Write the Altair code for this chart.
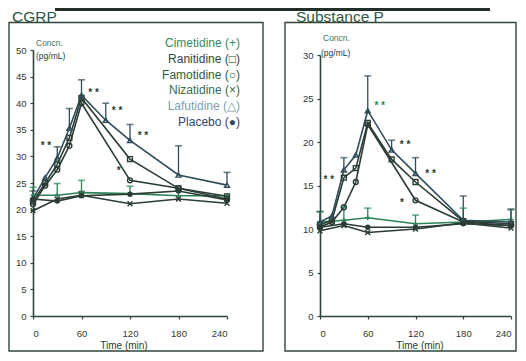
import altair as alt
import pandas as pd

FONT = "Liberation Sans"

series = ["Cimetidine", "Ranitidine", "Famotidine", "Nizatidine", "Lafutidine", "Placebo"]
series_colors = ["#2b8457", "#2a3c33", "#2a3c33", "#2a3c33", "#2f4c5a", "#2a3c33"]
series_shapes = ["M-1,0L1,0M0,-1L0,1", "square", "circle", "M-1,-1L1,1M-1,1L1,-1", "triangle-up", "circle"]
legend_labels = ["Cimetidine (+)", "Ranitidine (□)", "Famotidine (○)", "Nizatidine (×)", "Lafutidine (△)", "Placebo (●)"]
legend_colors = ["#3a8a5c", "#2f4a3b", "#2f5a44", "#3a6a50", "#7d9fae", "#34466a"]

times_active = [0, 15, 30, 45, 60, 90, 120, 180, 240]
times_flat = [0, 30, 60, 120, 180, 240]
x_ticks = [0, 60, 120, 180, 240]

# ---- CGRP (pg/mL) ----
cgrp_laf = [22.0, 26.0, 29.7, 35.3, 41.5, 36.8, 33.0, 26.5, 24.6]
cgrp_laf_err = [1.5, None, 2.1, 3.7, 2.9, 3.2, 3.0, 5.5, 2.4]
cgrp_ran = [21.5, 25.0, 28.5, 33.5, 41.0, None, 29.5, 24.0, 22.5]
cgrp_ran_err = [None, None, None, None, None, None, None, None, None]
cgrp_fam = [21.0, 24.5, 27.5, 32.0, 40.0, None, 25.5, 24.0, 22.0]
cgrp_fam_err = [None, None, None, None, None, None, None, None, None]
cgrp_cim = [22.7, 22.7, 23.2, 23.0, 22.6, 22.6]
cgrp_cim_err = [1.5, 2.2, 2.3, 1.4, None, None]
cgrp_niz = [19.8, 22.0, 22.7, 21.1, 22.0, 21.2]
cgrp_niz_err = [None, None, None, None, None, None]
cgrp_plac = [22.0, 21.6, 22.6, 22.9, 23.5, 21.8]
cgrp_plac_err = [None, None, 0.8, None, None, None]

# ---- Substance P (pg/mL) ----
sp_laf = [10.8, 11.5, 16.8, 18.5, 23.6, 19.1, 16.4, 11.0, 10.8]
sp_laf_err = [1.2, None, 1.4, None, 4.0, 1.1, 1.8, 2.8, 1.5]
sp_ran = [10.5, 11.0, 15.9, 17.0, 22.2, 18.0, 15.4, 10.9, 10.6]
sp_ran_err = [None, None, None, None, None, None, None, None, None]
sp_fam = [10.2, 10.8, 12.5, 15.4, 22.0, None, 13.3, 10.8, 10.4]
sp_fam_err = [None, None, None, None, None, None, None, None, None]
sp_cim = [10.8, 11.0, 11.3, 10.6, 10.8, 11.1]
sp_cim_err = [1.2, 1.5, 1.1, 1.0, 1.6, 1.1]
sp_niz = [9.8, 10.4, 9.6, 10.0, 10.7, 10.1]
sp_niz_err = [None, None, None, None, None, None]
sp_plac = [10.2, 10.6, 10.2, 10.2, 10.6, 10.4]
sp_plac_err = [None, None, None, None, None, None]

# significance marks (time, value, text, series)
cgrp_sig_t = [16, 75, 104, 136, 106]
cgrp_sig_v = [32.5, 42.5, 39.1, 34.4, 27.8]
cgrp_sig_txt = ["* *", "* *", "* *", "* *", "*"]
cgrp_sig_series = ["Ranitidine"] * 5
sp_sig_t = [11, 75, 107, 139, 103]
sp_sig_v = [16.0, 24.5, 20.0, 16.7, 13.3]
sp_sig_txt = ["* *", "* *", "* *", "* *", "*"]
sp_sig_series = ["Ranitidine", "Cimetidine", "Ranitidine", "Ranitidine", "Ranitidine"]


def build(panel_sets):
    rows = []
    for name, times, vals, errs in panel_sets:
        for t, v, e in zip(times, vals, errs):
            if v is None:
                continue
            rows.append({"series": name, "t": t, "v": v, "err": e})
    return pd.DataFrame(rows)


cgrp_df = build([
    ("Cimetidine", times_flat, cgrp_cim, cgrp_cim_err),
    ("Ranitidine", times_active, cgrp_ran, cgrp_ran_err),
    ("Famotidine", times_active, cgrp_fam, cgrp_fam_err),
    ("Nizatidine", times_flat, cgrp_niz, cgrp_niz_err),
    ("Lafutidine", times_active, cgrp_laf, cgrp_laf_err),
    ("Placebo", times_flat, cgrp_plac, cgrp_plac_err),
])
sp_df = build([
    ("Cimetidine", times_flat, sp_cim, sp_cim_err),
    ("Ranitidine", times_active, sp_ran, sp_ran_err),
    ("Famotidine", times_active, sp_fam, sp_fam_err),
    ("Nizatidine", times_flat, sp_niz, sp_niz_err),
    ("Lafutidine", times_active, sp_laf, sp_laf_err),
    ("Placebo", times_flat, sp_plac, sp_plac_err),
])
cgrp_sig = pd.DataFrame({"t": cgrp_sig_t, "v": cgrp_sig_v, "txt": cgrp_sig_txt, "series": cgrp_sig_series})
sp_sig = pd.DataFrame({"t": sp_sig_t, "v": sp_sig_v, "txt": sp_sig_txt, "series": sp_sig_series})
legend_df = pd.DataFrame({"label": legend_labels, "idx": list(range(len(legend_labels)))})

W, H = 510, 345
AXIS_Y = 308
INK = "#2f4438"

color_scale = alt.Scale(domain=series, range=series_colors)
shape_scale = alt.Scale(domain=series, range=series_shapes)


def axis_kw():
    return dict(grid=False, title=None, tickSize=3, tickColor=INK, domainColor=INK,
                domainWidth=1.6, tickWidth=1.2, labelFont=FONT, labelFontSize=9.5,
                labelColor="#2c3a32")


def panel(df, sig, xr, yr, ydom, yticks, xoff):
    xs = alt.Scale(domain=[0, 240], range=xr, nice=False, zero=False)
    ys = alt.Scale(domain=ydom, range=yr, nice=False, zero=False)
    ax_x = alt.Axis(values=x_ticks, orient="bottom", offset=AXIS_Y - H, labelPadding=9, **axis_kw())
    ax_y = alt.Axis(values=yticks, orient="left", offset=-xoff, labelPadding=4, **axis_kw())
    col = alt.Color("series:N", scale=color_scale, legend=None)
    base = alt.Chart(df)
    lines = base.mark_line(strokeWidth=1.6).encode(
        x=alt.X("t:Q", scale=xs, axis=ax_x),
        y=alt.Y("v:Q", scale=ys, axis=ax_y),
        color=col, detail="series:N", order="t:Q")
    eb = base.transform_filter("datum.err != null").transform_calculate(hi="datum.v + datum.err")
    rules = eb.mark_rule(strokeWidth=1.3).encode(
        x=alt.X("t:Q", scale=xs, axis=None),
        y=alt.Y("v:Q", scale=ys, axis=None), y2="hi:Q", color=col)
    caps = eb.mark_tick(orient="horizontal", size=7, thickness=1.6).encode(
        x=alt.X("t:Q", scale=xs, axis=None),
        y=alt.Y("hi:Q", scale=ys, axis=None), color=col)
    pts = base.transform_filter("datum.series != 'Placebo'").mark_point(
        filled=False, size=24, strokeWidth=1.4, opacity=1).encode(
        x=alt.X("t:Q", scale=xs, axis=None),
        y=alt.Y("v:Q", scale=ys, axis=None),
        color=col, shape=alt.Shape("series:N", scale=shape_scale, legend=None))
    dots = base.transform_filter("datum.series == 'Placebo'").mark_circle(size=30, opacity=1).encode(
        x=alt.X("t:Q", scale=xs, axis=None),
        y=alt.Y("v:Q", scale=ys, axis=None), color=col)
    sigs = alt.Chart(sig).mark_text(font=FONT, fontSize=10, fontWeight="bold", dy=3).encode(
        x=alt.X("t:Q", scale=xs, axis=None),
        y=alt.Y("v:Q", scale=ys, axis=None),
        text="txt:N", color=col)
    return [lines, rules, caps, pts, dots, sigs]


cgrp_layers = panel(cgrp_df, cgrp_sig, [25, 219], [AXIS_Y, 42], [0, 50], list(range(0, 51, 5)), 25)
sp_layers = panel(sp_df, sp_sig, [312, 503], [AXIS_Y, 47], [0, 30], list(range(0, 31, 5)), 312)

one = pd.DataFrame({"k": [0]})


def txt(s, x, y, size, color, align="left", weight="normal"):
    return alt.Chart(one).mark_text(text=s, font=FONT, fontSize=size, color=color,
                                    align=align, baseline="alphabetic", fontWeight=weight).encode(
        x=alt.value(x), y=alt.value(y))


def box(x1, x2, y1, y2):
    return alt.Chart(one).mark_rect(fillOpacity=0, stroke="#33453b", strokeWidth=1.4).encode(
        x=alt.value(x1), x2=alt.value(x2), y=alt.value(y1), y2=alt.value(y2))


deco = [
    alt.Chart(one).mark_rule(color="#222e27", strokeWidth=3).encode(
        x=alt.value(47), x2=alt.value(482), y=alt.value(1.5)),
    box(1, 255, 14.5, 343),
    box(277, 508, 14.5, 343),
    txt("CGRP", 4, 14, 15.5, "#2e5744"),
    txt("Substance P", 288, 14, 15.5, "#2e5744"),
    txt("Concn.", 28, 38, 8.5, "#3d7a55"),
    txt("(pg/mL)", 28, 51, 8.5, "#2c3a32"),
    txt("Concn.", 315, 33, 8.5, "#3d7a55"),
    txt("(pg/mL)", 313, 48, 8.5, "#2c3a32"),
    txt("Time (min)", 116, 341, 10, "#2c3a32", align="center"),
    txt("Time (min)", 412, 341, 10, "#2c3a32", align="center"),
]

legend = alt.Chart(legend_df).mark_text(font=FONT, fontSize=12, align="right", baseline="middle").encode(
    x=alt.value(232),
    y=alt.Y("idx:O", scale=alt.Scale(type="point", domain=list(range(6)), range=[35, 114], padding=0), axis=None),
    text="label:N",
    color=alt.Color("label:N", scale=alt.Scale(domain=legend_labels, range=legend_colors), legend=None))

chart = alt.layer(*deco, *cgrp_layers, *sp_layers, legend).resolve_scale(
    x="independent", y="independent", color="independent", shape="independent"
).properties(
    width=W, height=H, padding=0, autosize=alt.AutoSizeParams(type="none"), background="white"
).configure_view(stroke=None)

chart.save("out.html", embed_options={"renderer": "svg", "actions": False})
